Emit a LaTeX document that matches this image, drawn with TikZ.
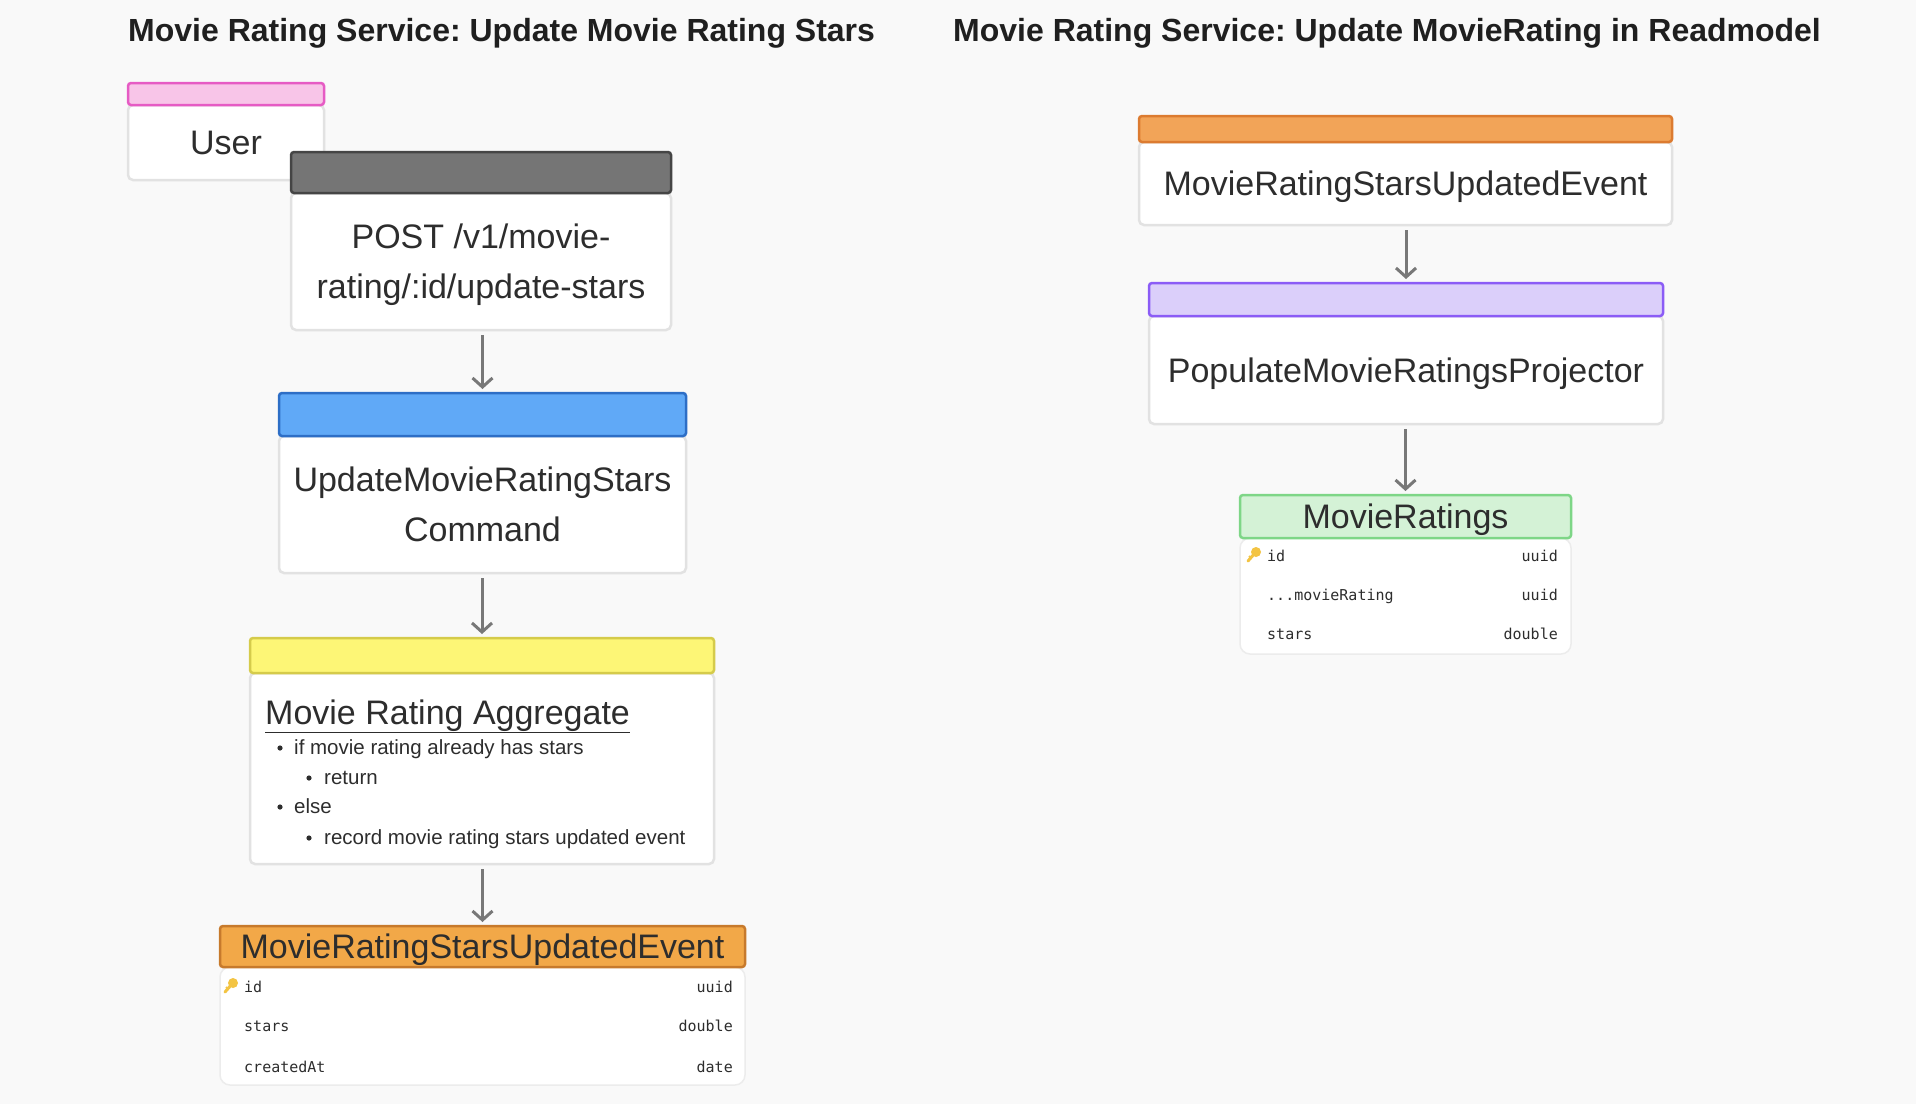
\documentclass[tikz,border=0pt]{standalone}
\usepackage{fontspec}
\setmainfont{Liberation Sans}
\setmonofont{DejaVu Sans Mono}
\usetikzlibrary{arrows.meta}
\frenchspacing

\definecolor{bgcol}{HTML}{F9F9F9}
\definecolor{txt}{HTML}{2D2D2D}
\definecolor{cardline}{HTML}{E2E2E2}
\definecolor{tblline}{HTML}{ECECEC}
\definecolor{arrowcol}{HTML}{787878}
\definecolor{keycol}{HTML}{F3C443}
\definecolor{userfill}{HTML}{F8C5E8}
\definecolor{userline}{HTML}{E65BC4}
\definecolor{apifill}{HTML}{757575}
\definecolor{apiline}{HTML}{454545}
\definecolor{cmdfill}{HTML}{60A9F7}
\definecolor{cmdline}{HTML}{2D6EC6}
\definecolor{aggfill}{HTML}{FDF676}
\definecolor{aggline}{HTML}{D5CB4B}
\definecolor{evtfill}{HTML}{F2A848}
\definecolor{evtline}{HTML}{C77A2C}
\definecolor{evt2fill}{HTML}{F2A458}
\definecolor{evt2line}{HTML}{DC7B30}
\definecolor{projfill}{HTML}{DBCFFA}
\definecolor{projline}{HTML}{8B5CF6}
\definecolor{rmfill}{HTML}{D4F2D6}
\definecolor{rmline}{HTML}{7ED687}

\tikzset{
  card/.style={draw=cardline, line width=2.5pt, fill=white, rounded corners=5pt,
    anchor=north west, inner sep=0pt, outer sep=0pt, align=center, text=txt,
    text depth=0pt, font=\fontsize{34}{50}\selectfont},
  hdr/.style={line width=2.5pt, rounded corners=3pt, anchor=north west,
    inner sep=0pt, outer sep=0pt, text=txt, text depth=0pt,
    font=\fontsize{34}{40}\selectfont},
  tbl/.style={draw=tblline, line width=1.5pt, fill=white, rounded corners=10pt,
    anchor=north west, inner sep=0pt, outer sep=0pt},
  fieldname/.style={anchor=base west, inner sep=0pt, text=txt,
    font=\ttfamily\fontsize{15}{18}\selectfont},
  fieldtype/.style={anchor=base east, inner sep=0pt, text=txt,
    font=\ttfamily\fontsize{15}{18}\selectfont},
  bullettext/.style={anchor=base west, inner sep=0pt, text=txt,
    font=\fontsize{20.5}{24}\selectfont},
  flow/.style={draw=arrowcol, line width=3pt,
    -{Straight Barb[length=9pt,width=20pt]}, shorten <=5pt, shorten >=4pt},
  title/.style={anchor=west, inner sep=0pt, text=black!88,
    font=\bfseries\fontsize{32}{38}\selectfont},
}

% small yellow key in front of a primary key field
\newcommand{\keyat}[2]{%
  \draw[keycol, line width=3pt, line cap=round] ({#1+2},{#2-2}) -- ({#1-5},{#2+6});
  \draw[keycol, line width=2pt] ({#1-2},{#2+3}) -- ({#1-4},{#2+1});
  \fill[keycol] ({#1+3},{#2-3}) circle (5pt);
}

\begin{document}
\begin{tikzpicture}[x=1pt, y=-1pt]
  % background and size
  \fill[bgcol] (0,0) rectangle (1916,1104);
  \useasboundingbox (0,0) rectangle (1916,1104);

  % titles
  \node[title] (titleleft) at (128,33) {Movie Rating Service: Update Movie Rating Stars};
  \node[title] (titleright) at (953,33) {Movie Rating Service: Update MovieRating in Readmodel};

  % ---- left column ----
  % User
  \node[card, minimum width=196pt, minimum height=75pt] (user) at (128,105) {User};
  \node[hdr, fill=userfill, draw=userline, minimum width=196pt, minimum height=22pt] (userhd) at (128,83) {};

  % API endpoint
  \node[card, minimum width=380pt, minimum height=137pt] (post) at (291,193)
    {POST /v1/movie-\\rating/:id/update-stars};
  \node[hdr, fill=apifill, draw=apiline, minimum width=380pt, minimum height=41pt] (posthd) at (291,152) {};

  % Command
  \node[card, minimum width=407pt, minimum height=137pt] (cmd) at (279,436)
    {UpdateMovieRatingStars\\Command};
  \node[hdr, fill=cmdfill, draw=cmdline, minimum width=407pt, minimum height=43pt] (cmdhd) at (279,393) {};

  % Aggregate
  \node[card, minimum width=464pt, minimum height=191pt] (agg) at (250,673) {};
  \node[hdr, fill=aggfill, draw=aggline, minimum width=464pt, minimum height=35pt] (agghd) at (250,638) {};
  \node[anchor=base west, inner sep=0pt, text=txt, font=\fontsize{34}{40}\selectfont]
    (aggtitle) at (265,724) {\underline{Movie Rating Aggregate}};
  \node[bullettext] (rule1) at (294,754) {if movie rating already has stars};
  \node[bullettext] (rule2) at (324,784) {return};
  \node[bullettext] (rule3) at (294,813) {else};
  \node[bullettext] (rule4) at (324,844) {record movie rating stars updated event};
  \fill[txt] (280,748) circle (2.6pt);
  \fill[txt] (309,778) circle (2.6pt);
  \fill[txt] (280,807) circle (2.6pt);
  \fill[txt] (309,838) circle (2.6pt);

  % Event table
  \node[tbl, minimum width=525pt, minimum height=118pt] (evt) at (220,967) {};
  \node[hdr, fill=evtfill, draw=evtline, minimum width=525pt, minimum height=41pt] (evthd) at (220,926)
    {MovieRatingStarsUpdatedEvent};
  \keyat{230}{986}
  \node[fieldname] (evtid) at (244,992) {id};
  \node[fieldtype] (evtidt) at (733,992) {uuid};
  \node[fieldname] (evtstars) at (244,1031) {stars};
  \node[fieldtype] (evtstarst) at (733,1031) {double};
  \node[fieldname] (evtcreated) at (244,1072) {createdAt};
  \node[fieldtype] (evtcreatedt) at (733,1072) {date};

  % ---- right column ----
  % Event
  \node[card, minimum width=533pt, minimum height=83pt] (event) at (1139,142) {MovieRatingStarsUpdatedEvent};
  \node[hdr, fill=evt2fill, draw=evt2line, minimum width=533pt, minimum height=26pt] (eventhd) at (1139,116) {};

  % Projector
  \node[card, minimum width=514pt, minimum height=108pt] (proj) at (1149,316) {PopulateMovieRatingsProjector};
  \node[hdr, fill=projfill, draw=projline, minimum width=514pt, minimum height=33pt] (projhd) at (1149,283) {};

  % Readmodel table
  \node[tbl, minimum width=331pt, minimum height=116pt] (rm) at (1240,538) {};
  \node[hdr, fill=rmfill, draw=rmline, minimum width=331pt, minimum height=43pt] (rmhd) at (1240,495) {MovieRatings};
  \keyat{1253}{555}
  \node[fieldname] (rmid) at (1267,561) {id};
  \node[fieldtype] (rmidt) at (1558,561) {uuid};
  \node[fieldname] (rmref) at (1267,600) {...movieRating};
  \node[fieldtype] (rmreft) at (1558,600) {uuid};
  \node[fieldname] (rmstars) at (1267,639) {stars};
  \node[fieldtype] (rmstarst) at (1558,639) {double};

  % arrows
  \draw[flow] (cmdhd.north |- post.south) -- (cmdhd.north);
  \draw[flow] (agghd.north |- cmd.south) -- (agghd.north);
  \draw[flow] (evthd.north |- agg.south) -- (evthd.north);
  \draw[flow] (projhd.north |- event.south) -- (projhd.north);
  \draw[flow] (rmhd.north |- proj.south) -- (rmhd.north);
\end{tikzpicture}
\end{document}
